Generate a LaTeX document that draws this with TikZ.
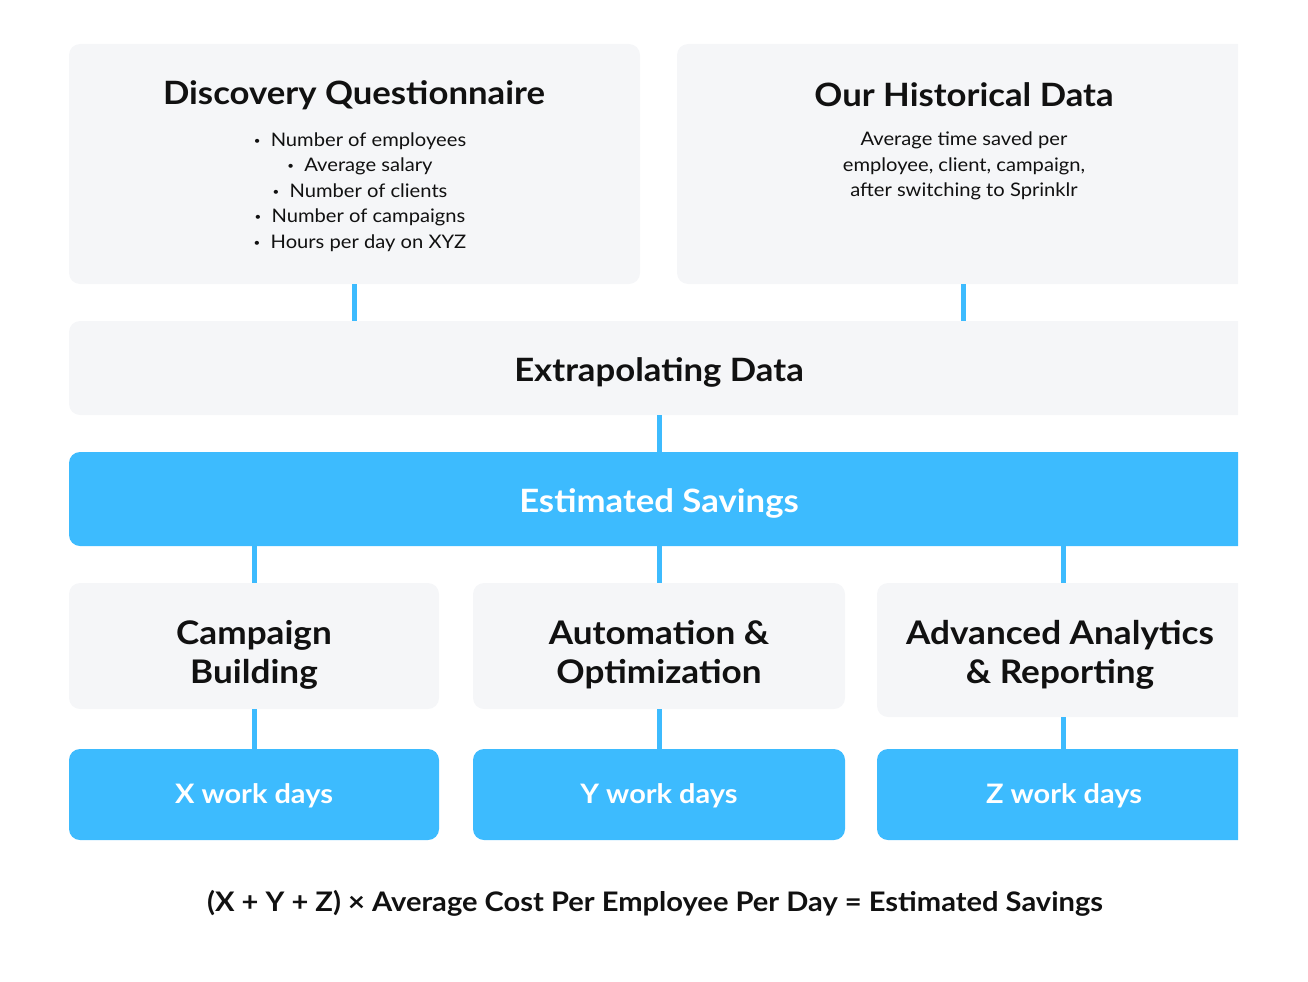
\documentclass[tikz,border=0pt]{standalone}
\usepackage{fontspec}
\setmainfont{Lato}[FakeStretch=1.08]
\definecolor{boxgray}{HTML}{F5F6F8}
\definecolor{skyblue}{HTML}{3DBBFE}
\definecolor{inkblack}{HTML}{111111}
\newcommand{\smallbul}{\raisebox{0.1em}{\fontsize{8}{8}\selectfont\textbullet}\hspace{0.55em}}
\tikzset{
  graybox/.style={fill=boxgray, draw=none, rounded corners=8.25pt, inner sep=0pt},
  bluebox/.style={fill=skyblue, draw=none, rounded corners=8.25pt, inner sep=0pt},
  conn/.style={draw=skyblue, line width=3.75pt},
  titletext/.style={font=\bfseries\fontsize{24.1}{29}\selectfont, text=inkblack, align=center, inner sep=0pt},
  subtext/.style={font=\fontsize{24.4}{29.25}\bfseries\selectfont, text=inkblack, align=center, inner sep=0pt},
  bodytext/.style={font=\fontsize{14}{19.1}\selectfont, text=inkblack, align=center, inner sep=0pt},
  whitetext/.style={font=\fontsize{20.1}{23}\bfseries\selectfont, text=white, align=center, inner sep=0pt},
}
\begin{document}
\begin{tikzpicture}[x=0.75pt,y=-0.75pt]
\useasboundingbox (0,0) rectangle (1308,981);
\begin{scope}
\clip (0,0) rectangle (1238,981);
\node[graybox, minimum width=571*0.75pt, minimum height=240*0.75pt] (dq) at (354.5,164) {};
\node[graybox, minimum width=573*0.75pt, minimum height=240*0.75pt] (hd) at (963.5,164) {};
\node[graybox, minimum width=1181*0.75pt, minimum height=94*0.75pt] (ex) at (659.5,368) {};
\node[bluebox, minimum width=1181*0.75pt, minimum height=94*0.75pt] (es) at (659.5,499) {};
\node[graybox, minimum width=370*0.75pt, minimum height=126*0.75pt] (cb) at (254,646) {};
\node[graybox, minimum width=372*0.75pt, minimum height=126*0.75pt] (ao) at (659,646) {};
\node[graybox, minimum width=373*0.75pt, minimum height=134*0.75pt] (aa) at (1063.5,650) {};
\node[bluebox, minimum width=370*0.75pt, minimum height=91*0.75pt] (xw) at (254,794.5) {};
\node[bluebox, minimum width=372*0.75pt, minimum height=91*0.75pt] (yw) at (659,794.5) {};
\node[bluebox, minimum width=373*0.75pt, minimum height=91*0.75pt] (zw) at (1063.5,794.5) {};
\end{scope}

% connectors
\draw[conn] (dq.south) -- (dq.south |- ex.north);
\draw[conn] (hd.south) -- (hd.south |- ex.north);
\draw[conn] (ex.south) -- (es.north);
\draw[conn] (cb.north) -- (cb.north |- es.south);
\draw[conn] (ao.north) -- (ao.north |- es.south);
\draw[conn] (aa.north) -- (aa.north |- es.south);
\draw[conn] (cb.south) -- (xw.north);
\draw[conn] (ao.south) -- (yw.north);
\draw[conn] (aa.south) -- (zw.north);

% texts
\node[titletext] (dqt) at (354,95) {Discovery Questionnaire};
\node[bodytext] (dql) at (360,192) {%
\smallbul Number of employees\\
\smallbul Average salary\\
\smallbul Number of clients\\
\smallbul Number of campaigns\\
\smallbul Hours per day on XYZ};
\node[titletext] (hdt) at (964,95) {Our Historical Data};
\node[bodytext] (hdl) at (964,166) {Average time saved per\\employee, client, campaign,\\after switching to Sprinklr};
\node[titletext] (ext) at (659,372) {Extrapolating Data};
\node[titletext, text=white] (est) at (659,503) {Estimated Savings};
\node[subtext] (cbt) at (254,655) {Campaign\\Building};
\node[subtext] (aot) at (659,655) {Automation \&\\Optimization};
\node[subtext] (aat) at (1060,655) {Advanced Analytics\\\& Reporting};
\node[whitetext] (xwt) at (254,796) {X work days};
\node[whitetext] (ywt) at (659,796) {Y work days};
\node[whitetext] (zwt) at (1064,796) {Z work days};
\node[font=\fontsize{20.2}{22}\bfseries\selectfont, text=inkblack, inner sep=0pt] (form) at (655,903) {(X + Y + Z) × Average Cost Per Employee Per Day = Estimated Savings};
\end{tikzpicture}
\end{document}
